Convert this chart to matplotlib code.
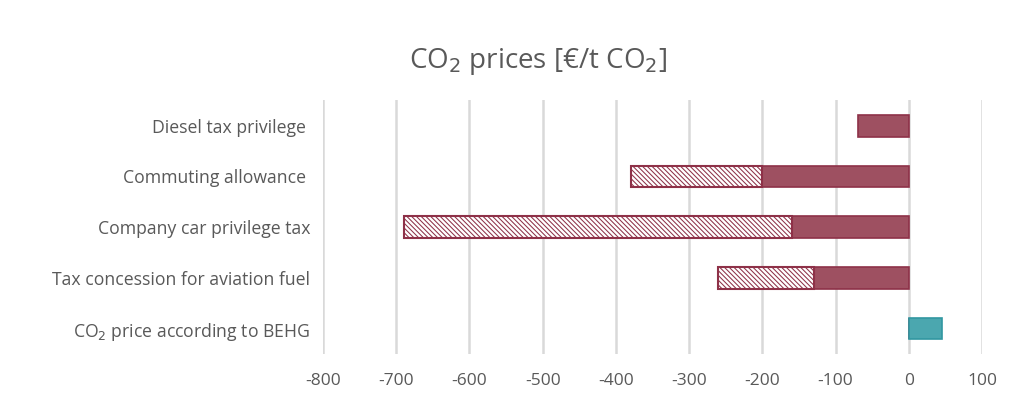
import matplotlib.pyplot as plt
import numpy as np

plt.rcParams['font.family'] = ['Open Sans', 'DejaVu Sans']

categories = ["Diesel tax privilege ", "Commuting allowance ", "Company car privilege tax",
              "Tax concession for aviation fuel", "CO$_2$ price according to BEHG"]
solid_vals = np.array([-70, -200, -160, -130, 0])
hatched_vals = np.array([0, -180, -530, -130, 0])
behg_vals = np.array([0, 0, 0, 0, 45])
x_ticks = np.arange(-800, 101, 100)

text_col = '#595959'
red_face = '#9E5061'
red_edge = '#8E3148'
teal_face = '#4BA7AF'
teal_edge = '#3197A1'

plt.rcParams['hatch.color'] = red_edge
plt.rcParams['hatch.linewidth'] = 0.75

fig = plt.figure(figsize=(10.24, 3.95), dpi=100)
ax = fig.add_axes([0.3154, 0.104, 0.6436, 0.642])

y = np.arange(len(categories))
h = 0.43

ax.barh(y, solid_vals, height=h, color=red_face, edgecolor=red_edge, linewidth=1.2, zorder=3)
hatch_mask = hatched_vals != 0
ax.barh(y[hatch_mask], hatched_vals[hatch_mask], left=solid_vals[hatch_mask], height=h,
        color='white', edgecolor=red_edge, hatch='\\' * 7, linewidth=1.5, zorder=3)
behg_mask = behg_vals != 0
ax.barh(y[behg_mask], behg_vals[behg_mask], height=h, color=teal_face, edgecolor=teal_edge,
        linewidth=1.2, zorder=3)

ax.set_xlim(-800, 100)
ax.set_ylim(len(categories) - 0.5, -0.5)
ax.set_xticks(x_ticks)
ax.set_xticklabels([str(v) for v in x_ticks])
ax.set_yticks(y)
ax.set_yticklabels(categories)
ax.tick_params(axis='both', length=0, colors=text_col)
ax.tick_params(axis='x', pad=14, labelsize=12.5)
ax.tick_params(axis='y', pad=9, labelsize=12.7)
ax.grid(axis='x', color='#D9D9D9', linewidth=1.8, zorder=0)
for s in ax.spines.values():
    s.set_visible(False)

fig.text(0.525, 0.845, "CO$_2$ prices [€/t CO$_2$]", ha='center', va='center',
         fontsize=20, color=text_col)

fig.savefig('out.png', dpi=100)
